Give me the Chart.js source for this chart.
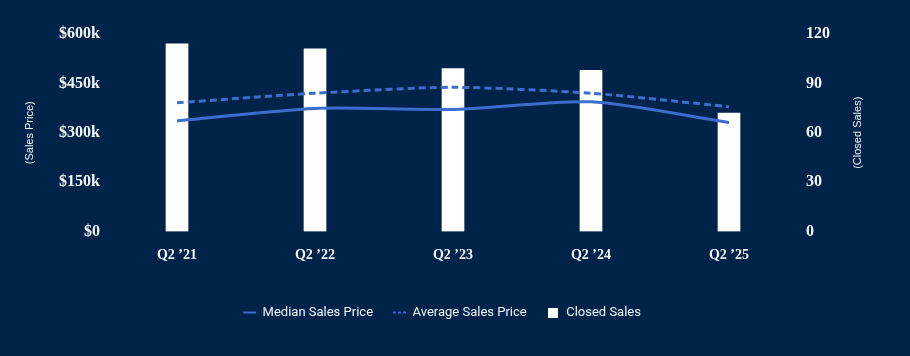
<!DOCTYPE html>
<html>
<head>
<meta charset="utf-8">
<script src="https://cdn.jsdelivr.net/npm/chart.js@4"></script>
<style>
  html, body { margin: 0; padding: 0; background: #002349; }
  #wrap { width: 910px; height: 356px; position: relative; }
</style>
</head>
<body>
<div id="wrap"><canvas id="c"></canvas></div>
<script>
const categories = ['Q2 \u201921', 'Q2 \u201922', 'Q2 \u201923', 'Q2 \u201924', 'Q2 \u201925'];
const medianPrice = [336000, 374000, 371000, 394000, 331000];
const averagePrice = [391000, 420000, 438000, 420000, 379000];
const closedSales = [114, 111, 99, 98, 72];
const priceAxis = { min: 0, max: 600000, step: 150000 };
const salesAxis = { min: 0, max: 120, step: 30 };

const BG = '#002349';
const LINE = '#3a6dcc';
const TXT = '#f3f5f8';

const sq = document.createElement('canvas');
sq.width = 10; sq.height = 10;
const sctx = sq.getContext('2d');
sctx.fillStyle = '#ffffff';
sctx.fillRect(0, 0, 10, 10);

const rightTitle = {
  id: 'rightTitle',
  afterLayout(chart) {
    if (chart.legend) { chart.legend.left -= 6; chart.legend.right -= 6; }
  },
  afterDraw(chart) {
    const { ctx, chartArea } = chart;
    ctx.save();
    ctx.translate(858, (chartArea.top + chartArea.bottom) / 2);
    ctx.rotate(-Math.PI / 2);
    ctx.fillStyle = TXT;
    ctx.font = '11px "Liberation Sans", Arial, sans-serif';
    ctx.textAlign = 'center';
    ctx.textBaseline = 'middle';
    ctx.fillText('(Closed Sales)', 0, 0);
    ctx.restore();
  }
};

new Chart(document.getElementById('c'), {
  data: {
    labels: categories,
    datasets: [
      {
        type: 'line', label: 'Median Sales Price', data: medianPrice,
        borderColor: LINE, backgroundColor: LINE, borderWidth: 3,
        pointRadius: 0, tension: 0.25, yAxisID: 'yPrice'
      },
      {
        type: 'line', label: 'Average Sales Price', data: averagePrice,
        borderColor: LINE, backgroundColor: LINE, borderWidth: 3, borderDash: [7, 4],
        pointRadius: 0, tension: 0.25, yAxisID: 'yPrice'
      },
      {
        type: 'bar', label: 'Closed Sales', data: closedSales,
        backgroundColor: '#ffffff', borderWidth: 0, barThickness: 22, yAxisID: 'ySales'
      }
    ]
  },
  options: {
    responsive: true,
    maintainAspectRatio: false,
    animation: false,
    layout: { padding: { left: 18, right: 32, top: 34, bottom: 27 } },
    plugins: {
      tooltip: { enabled: false },
      legend: {
        position: 'bottom',
        labels: {
          color: TXT,
          font: { family: 'Roboto, "Liberation Sans", sans-serif', size: 13 },
          usePointStyle: true,
          pointStyleWidth: 13,
          boxHeight: 10,
          padding: 20,
          generateLabels(chart) {
            const items = Chart.defaults.plugins.legend.labels.generateLabels(chart);
            items.forEach((it, i) => {
              if (i === 0) { it.pointStyle = 'line'; it.lineWidth = 2; it.lineDash = []; it.strokeStyle = LINE; }
              else if (i === 1) { it.pointStyle = 'line'; it.lineWidth = 2; it.lineDash = [3, 2]; it.strokeStyle = LINE; }
              else { it.pointStyle = sq; }
            });
            return items;
          }
        }
      }
    },
    scales: {
      x: {
        grid: { display: false, drawTicks: false },
        border: { display: false },
        ticks: {
          color: TXT, padding: 15,
          font: { family: '"Liberation Serif", serif', size: 14, weight: 'bold' }
        },
        afterFit(scale) { scale.height = 54.5; }
      },
      yPrice: {
        position: 'left',
        min: priceAxis.min, max: priceAxis.max,
        grid: { display: false, drawTicks: false },
        border: { display: false },
        ticks: {
          stepSize: priceAxis.step, color: TXT, padding: 8,
          font: { family: '"Liberation Serif", serif', size: 16, weight: 'bold' },
          callback: v => v === 0 ? '$0' : '$' + (v / 1000) + 'k'
        },
        title: {
          display: true, text: '(Sales Price)', color: TXT,
          font: { family: '"Liberation Sans", Arial, sans-serif', size: 11 },
          padding: { top: 5, bottom: 0 }
        },
        afterFit(scale) { scale.width = 90; }
      },
      ySales: {
        position: 'right',
        min: salesAxis.min, max: salesAxis.max,
        grid: { display: false, drawTicks: false },
        border: { display: false },
        ticks: {
          stepSize: salesAxis.step, color: TXT, padding: 8,
          font: { family: '"Liberation Serif", serif', size: 16, weight: 'bold' }
        },
        afterFit(scale) { scale.width = 80; }
      }
    }
  },
  plugins: [rightTitle]
});
</script>
</body>
</html>
